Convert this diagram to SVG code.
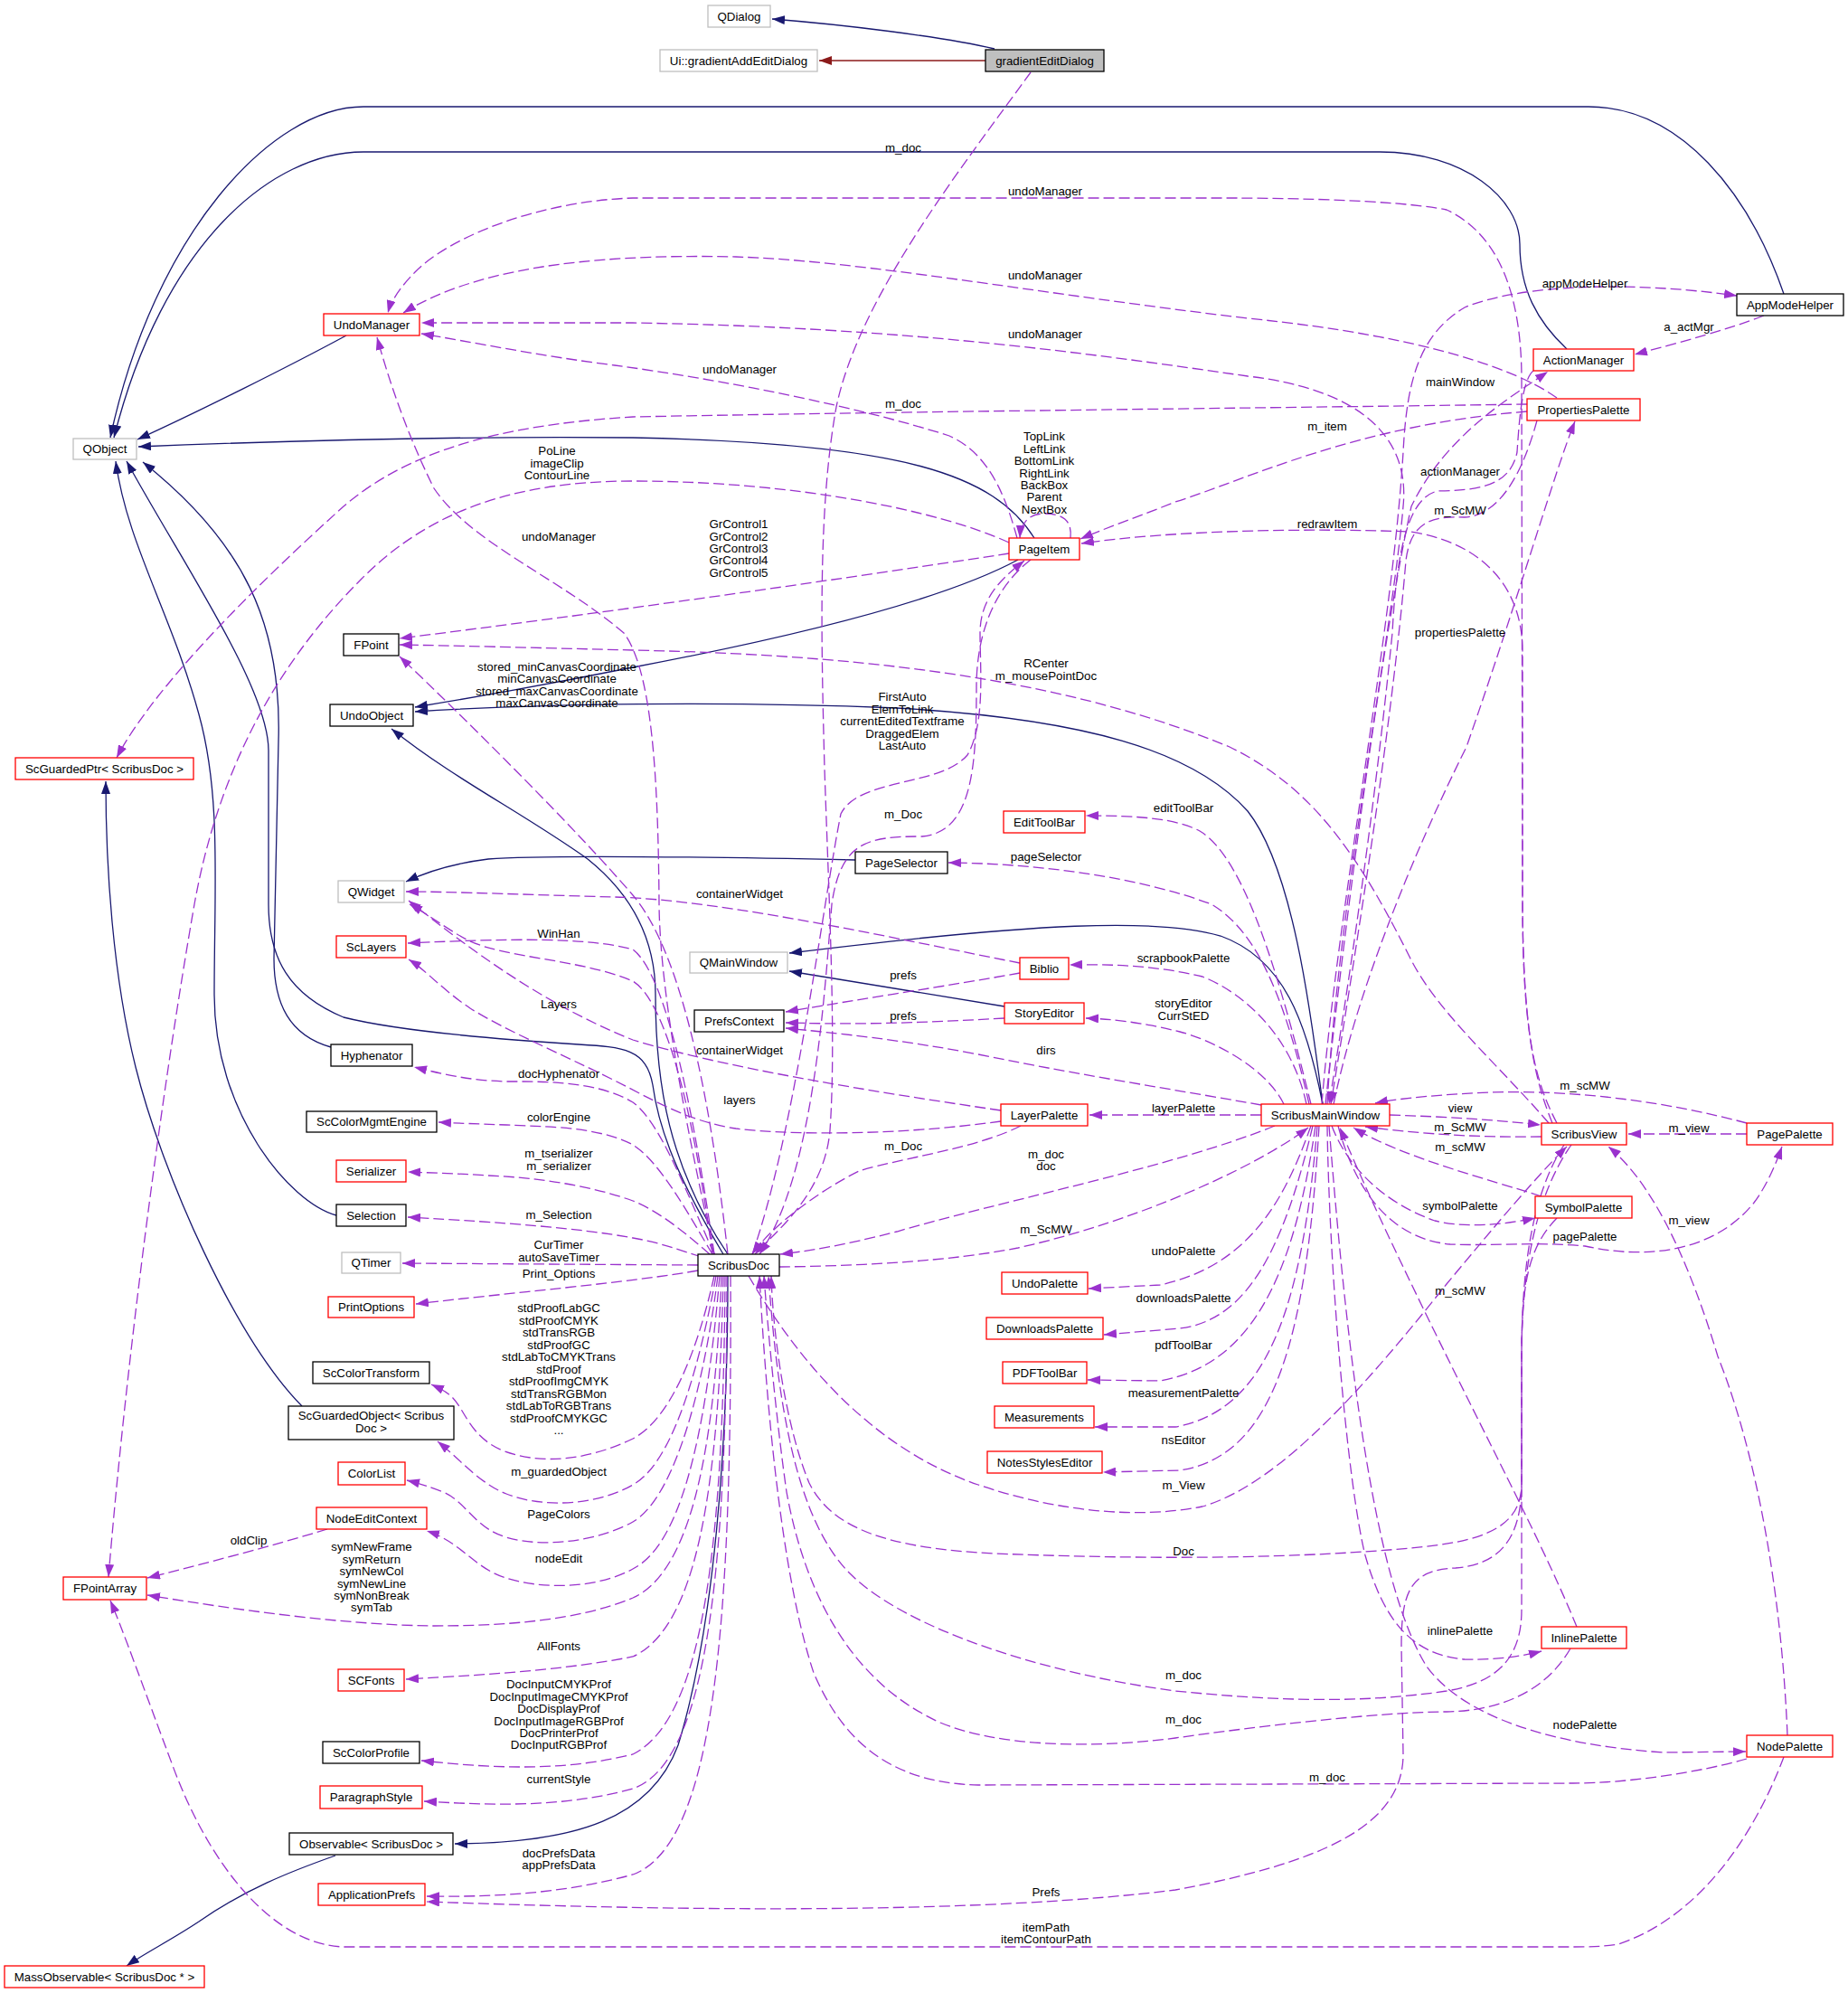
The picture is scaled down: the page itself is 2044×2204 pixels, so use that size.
<svg xmlns="http://www.w3.org/2000/svg" width="2044" height="2204" viewBox="0 0 2044 2204">
<style>
.n rect{fill:#fff;stroke-width:1.3}
.rd rect{stroke:#ff0000}
.bk rect{stroke:#000}
.gy rect{stroke:#bfbfbf}
text{font-family:"Liberation Sans",Arial,Helvetica,sans-serif;font-size:13.3px;fill:#000}
.n text{text-anchor:middle}
.lb text{text-anchor:middle}
.e path{fill:none;stroke-width:1.3}
.e .i{stroke:#191970;marker-end:url(#mb)}
.e .r{stroke:#8b1a1a;marker-end:url(#mr)}
.e .u{stroke:#9a32cd;stroke-dasharray:12,5;marker-end:url(#mp)}
</style>
<defs>
<marker id="mp" viewBox="0 0 10 10" refX="10" refY="5" markerWidth="14" markerHeight="10" markerUnits="userSpaceOnUse" orient="auto" preserveAspectRatio="none"><path d="M0,0 L10,5 L0,10 z" fill="#9a32cd"/></marker>
<marker id="mb" viewBox="0 0 10 10" refX="10" refY="5" markerWidth="14" markerHeight="10" markerUnits="userSpaceOnUse" orient="auto" preserveAspectRatio="none"><path d="M0,0 L10,5 L0,10 z" fill="#191970"/></marker>
<marker id="mr" viewBox="0 0 10 10" refX="10" refY="5" markerWidth="14" markerHeight="10" markerUnits="userSpaceOnUse" orient="auto" preserveAspectRatio="none"><path d="M0,0 L10,5 L0,10 z" fill="#8b1a1a"/></marker>
</defs>
<rect width="2044" height="2204" fill="#fff"/>
<g id="edges" class="e">
<path class="i" d="M1100,54 C1040,40 930,27 854,21"/>
<path class="r" d="M1090,67 L906,67"/>
<path class="i" d="M1973,325 C1935,215 1860,118 1757,118 L402,118 C300,118 170,260 122,484"/>
<path class="i" d="M1733,386 C1700,355 1681,320 1681,270 C1681,220 1620,168 1526,168 L402,168 C300,168 180,270 126,484"/>
<path class="i" d="M383,371 C320,405 220,455 152,486"/>
<path class="i" d="M1144,595 C1100,525 1000,490 700,484 C500,482 300,488 153,494"/>
<path class="i" d="M800,1387 C760,1320 730,1260 722,1200 C715,1160 690,1158 640,1155 C560,1150 440,1140 380,1125 C320,1100 297,1060 297,1000 L297,830 C297,760 200,620 140,510"/>
<path class="i" d="M366,1158 C320,1145 303,1110 303,1060 L308,820 C312,690 270,600 158,511"/>
<path class="i" d="M372,1344 C320,1330 237,1230 237,1100 C237,980 245,880 220,790 C190,680 140,600 128,510"/>
<path class="i" d="M1126,619 C1050,660 900,700 700,738 C600,758 520,772 459,782"/>
<path class="i" d="M1463,1221 C1450,1120 1430,960 1380,897 C1320,830 1200,795 992,783 C800,775 600,778 459,787"/>
<path class="i" d="M805,1387 C740,1290 725,1200 725,1100 C725,1040 700,990 650,950 C580,900 500,860 433,806"/>
<path class="i" d="M946,951 C800,948 600,945 540,950 C500,955 470,965 449,975"/>
<path class="i" d="M1463,1221 C1445,1130 1420,1060 1350,1035 C1280,1015 1150,1020 873,1054"/>
<path class="i" d="M1111,1113 L873,1074"/>
<path class="i" d="M334,1555 C260,1480 180,1300 150,1180 C125,1080 117,960 117,864"/>
<path class="i" d="M805,1411 C805,1600 790,1800 750,1930 C720,2010 640,2038 503,2039"/>
<path class="i" d="M371,2052 C320,2070 270,2090 220,2125 C190,2145 160,2160 140,2174"/>
<path class="u" d="M1140,80 C1060,190 950,330 925,450 C905,560 908,700 912,850 C917,1000 925,1150 918,1250 C912,1320 860,1360 835,1387"/>
<path class="u" d="M1689,447 C1500,450 1000,455 700,461 C550,470 450,500 380,560 C280,650 170,760 129,838"/>
<path class="u" d="M1116,600 C1040,565 880,532 700,532 C560,532 470,570 400,640 C300,740 240,860 215,1000 C180,1200 140,1500 120,1744"/>
<path class="u" d="M1116,612 C900,645 650,680 442,706"/>
<path class="u" d="M1713,1242 C1660,1180 1590,1120 1560,1060 C1500,940 1450,870 1360,826 C1200,760 1000,725 700,719 C580,716 500,714 442,713"/>
<path class="u" d="M805,1387 C790,1250 760,1060 700,990 C640,920 520,800 442,726"/>
<path class="u" d="M1184,595 C1186,575 1175,568 1155,568 C1138,568 1129,578 1128,595"/>
<path class="u" d="M1125,595 C1110,540 1090,500 1050,482 C950,450 800,420 680,404 C600,394 520,378 466,369"/>
<path class="u" d="M790,1387 C760,1250 730,1100 729,1000 C728,850 720,740 690,700 C620,640 520,600 480,540 C450,480 430,420 417,373"/>
<path class="u" d="M1717,1242 C1700,1200 1685,1150 1684,1000 L1683,420 C1683,330 1660,260 1600,232 C1540,220 1400,219 1360,219 L700,219 C600,222 500,260 460,300 C440,320 432,335 429,346"/>
<path class="u" d="M1722,440 C1680,410 1580,372 1380,352 C1150,325 950,288 814,284 C640,280 520,300 446,346"/>
<path class="u" d="M1468,1221 C1480,1000 1540,700 1552,560 C1560,480 1500,430 1380,416 C1200,390 1000,362 700,357 L466,357"/>
<path class="u" d="M788,1387 C770,1250 740,1110 700,1085 C640,1060 560,1060 518,1040 C495,1028 475,1012 453,1000"/>
<path class="u" d="M1107,1228 C950,1205 800,1180 700,1150 C600,1110 520,1050 452,996"/>
<path class="u" d="M1128,1065 C1000,1040 800,995 680,992 C600,990 500,986 449,986"/>
<path class="u" d="M790,1387 C770,1250 740,1080 700,1050 C650,1036 560,1038 451,1043"/>
<path class="u" d="M1107,1240 C1000,1255 880,1256 814,1248 C760,1240 720,1215 680,1195 C620,1165 560,1140 520,1115 C490,1095 470,1072 452,1061"/>
<path class="u" d="M790,1387 C760,1320 730,1240 700,1219 C660,1195 600,1196 560,1196 C520,1195 490,1188 458,1180"/>
<path class="u" d="M788,1387 C760,1340 730,1285 700,1266 C660,1245 600,1246 560,1244 C530,1243 505,1242 485,1241"/>
<path class="u" d="M785,1387 C760,1365 730,1340 700,1328 C650,1310 590,1302 540,1300 C510,1298 480,1297 451,1296"/>
<path class="u" d="M776,1390 C750,1382 730,1374 700,1369 C640,1358 560,1352 451,1346"/>
<path class="u" d="M772,1399 L445,1397"/>
<path class="u" d="M772,1405 C700,1418 560,1430 460,1442"/>
<path class="u" d="M790,1411 C770,1500 740,1570 700,1591 C650,1615 600,1620 558,1605 C520,1590 515,1560 500,1545 C495,1540 488,1536 477,1531"/>
<path class="u" d="M792,1411 C770,1530 740,1620 700,1642 C660,1665 600,1668 560,1652 C530,1640 510,1615 484,1594"/>
<path class="u" d="M794,1411 C775,1560 740,1660 700,1683 C660,1705 600,1712 560,1700 C525,1690 515,1660 490,1650 C475,1644 462,1640 450,1637"/>
<path class="u" d="M796,1411 C780,1600 750,1710 700,1735 C660,1757 600,1758 560,1745 C525,1735 510,1705 472,1693"/>
<path class="u" d="M362,1691 C300,1710 230,1728 163,1745"/>
<path class="u" d="M798,1411 C790,1620 760,1740 700,1767 C640,1792 560,1798 480,1798 C380,1797 260,1780 163,1764"/>
<path class="u" d="M800,1411 C795,1650 770,1800 700,1832 C620,1848 520,1853 449,1857"/>
<path class="u" d="M802,1411 C800,1700 780,1900 700,1940 C620,1960 540,1955 466,1947"/>
<path class="u" d="M804,1411 C804,1750 780,1950 700,1978 C620,2000 540,1996 469,1992"/>
<path class="u" d="M808,1411 C810,1800 790,2040 700,2073 C620,2095 540,2098 472,2097"/>
<path class="u" d="M1738,1266 C1700,1320 1683,1400 1683,1500 L1683,1640 C1683,1700 1660,1730 1610,1734 C1560,1736 1550,1760 1550,1820 L1552,1940 C1552,2020 1460,2060 1300,2090 C1100,2115 800,2115 472,2103"/>
<path class="u" d="M1973,1943 C1940,2030 1880,2120 1790,2150 C1770,2153 1760,2153 1740,2153 L380,2153 C300,2150 230,2060 190,1950 C160,1870 135,1800 122,1770"/>
<path class="u" d="M1932,1945 C1880,1960 1800,1972 1740,1972 L1082,1974 C980,1972 930,1920 900,1850 C870,1760 850,1600 840,1411"/>
<path class="u" d="M1737,1823 C1710,1870 1660,1892 1600,1893 C1540,1893 1420,1905 1300,1922 C1200,1935 1100,1930 1040,1905 C940,1860 890,1760 870,1650 C860,1580 850,1480 845,1411"/>
<path class="u" d="M1722,1347 C1690,1380 1683,1420 1683,1500 L1683,1780 C1683,1830 1660,1860 1600,1870 C1500,1885 1400,1880 1300,1870 C1150,1850 1000,1800 940,1740 C880,1680 860,1550 850,1411"/>
<path class="u" d="M1730,1266 C1695,1320 1683,1400 1683,1500 L1683,1640 C1683,1690 1640,1705 1560,1712 C1450,1722 1300,1726 1100,1718 C980,1712 920,1690 895,1640 C870,1580 855,1480 853,1411"/>
<path class="u" d="M828,1411 C880,1500 960,1600 1082,1642 C1170,1672 1260,1680 1330,1666 C1420,1640 1520,1520 1600,1420 C1650,1360 1700,1300 1733,1268"/>
<path class="u" d="M1744,1799 C1720,1740 1680,1660 1650,1600 C1600,1500 1520,1340 1482,1247"/>
<path class="u" d="M1468,1245 C1470,1400 1490,1640 1510,1720 C1530,1790 1560,1830 1620,1835 C1660,1836 1690,1830 1705,1826"/>
<path class="u" d="M1470,1245 C1490,1500 1520,1750 1578,1843 C1620,1900 1720,1930 1840,1938 L1931,1937"/>
<path class="u" d="M1977,1919 C1970,1750 1940,1600 1900,1500 C1870,1400 1830,1310 1779,1268"/>
<path class="u" d="M1480,1245 C1500,1320 1540,1370 1604,1376 C1650,1378 1700,1373 1753,1378 C1830,1395 1900,1380 1940,1330 C1955,1310 1965,1285 1971,1268"/>
<path class="u" d="M1932,1242 C1850,1220 1750,1205 1650,1208 C1600,1210 1550,1214 1521,1220"/>
<path class="u" d="M1932,1254 L1801,1254"/>
<path class="u" d="M1537,1233 C1600,1235 1650,1238 1704,1244"/>
<path class="u" d="M1705,1257 C1640,1258 1580,1255 1510,1246"/>
<path class="u" d="M1705,1323 C1650,1305 1550,1280 1497,1247"/>
<path class="u" d="M1473,1245 C1490,1290 1530,1330 1587,1350 C1620,1358 1660,1355 1698,1347"/>
<path class="u" d="M1395,1233 L1205,1233"/>
<path class="u" d="M1410,1245 C1300,1290 1100,1330 992,1362 C930,1378 890,1384 863,1387"/>
<path class="u" d="M862,1401 C950,1400 1050,1395 1126,1380 C1260,1350 1390,1290 1447,1247"/>
<path class="u" d="M1395,1222 C1300,1205 1200,1190 1082,1166 C1000,1150 920,1142 869,1137"/>
<path class="u" d="M1420,1221 C1400,1180 1340,1150 1305,1141 C1260,1130 1230,1127 1201,1126"/>
<path class="u" d="M1450,1245 C1420,1330 1380,1400 1283,1421 L1204,1425"/>
<path class="u" d="M1452,1245 C1420,1380 1380,1460 1305,1469 L1221,1476"/>
<path class="u" d="M1455,1245 C1430,1420 1380,1510 1283,1527 L1203,1526"/>
<path class="u" d="M1457,1245 C1440,1450 1400,1560 1300,1578 L1211,1578"/>
<path class="u" d="M1459,1245 C1445,1480 1410,1610 1305,1626 L1220,1628"/>
<path class="u" d="M1450,1221 C1420,1100 1380,950 1327,919 C1300,905 1260,902 1201,902"/>
<path class="u" d="M1448,1221 C1420,1100 1390,1030 1340,1000 C1260,970 1150,955 1049,954"/>
<path class="u" d="M1445,1221 C1430,1150 1380,1100 1330,1080 C1280,1068 1230,1066 1183,1067"/>
<path class="u" d="M1128,1076 C1050,1090 950,1105 869,1119"/>
<path class="u" d="M1111,1126 C1000,1132 950,1133 869,1131"/>
<path class="u" d="M1129,1245 C1080,1270 1000,1280 950,1295 C900,1320 850,1360 832,1387"/>
<path class="u" d="M832,1387 C880,1250 910,1000 930,900 C950,860 1040,870 1070,835 C1090,800 1084,740 1084,700 C1084,660 1110,638 1133,620"/>
<path class="u" d="M1140,619 C1100,650 1080,700 1080,760 C1080,850 1075,920 1020,925 C960,925 930,930 920,1000 C912,1100 900,1300 840,1387"/>
<path class="u" d="M1462,1221 C1480,1000 1540,700 1552,500 C1556,420 1570,370 1620,340 C1680,315 1800,310 1921,327"/>
<path class="u" d="M1951,349 C1910,365 1860,378 1808,392"/>
<path class="u" d="M1466,1221 C1490,1000 1530,700 1561,560 C1600,480 1670,440 1712,411"/>
<path class="u" d="M1696,410 C1683,420 1680,470 1678,500 C1670,540 1630,542 1590,543 C1560,550 1545,600 1540,700 C1520,900 1490,1100 1470,1221"/>
<path class="u" d="M1689,455 C1500,470 1380,530 1300,555 C1250,575 1220,585 1195,596"/>
<path class="u" d="M1475,1221 C1500,1100 1560,950 1622,826 C1680,660 1720,520 1742,466"/>
<path class="u" d="M1700,465 C1685,520 1660,570 1620,572 C1580,570 1560,580 1555,620 C1540,800 1500,1050 1472,1221"/>
<path class="u" d="M1722,1242 C1700,1200 1684,1150 1684,1000 L1684,720 C1684,650 1640,600 1560,588 C1450,584 1300,586 1196,601"/>
</g>
<g id="labels" class="lb">
<text x="999" y="168">m_doc</text>
<text x="1156" y="216">undoManager</text>
<text x="1156" y="309">undoManager</text>
<text x="1156" y="374">undoManager</text>
<text x="818" y="413">undoManager</text>
<text x="999" y="451">m_doc</text>
<text x="1155" y="487">TopLink</text>
<text x="1155" y="501">LeftLink</text>
<text x="1155" y="514">BottomLink</text>
<text x="1155" y="528">RightLink</text>
<text x="1155" y="541">BackBox</text>
<text x="1155" y="554">Parent</text>
<text x="1155" y="568">NextBox</text>
<text x="616" y="503">PoLine</text>
<text x="616" y="517">imageClip</text>
<text x="616" y="530">ContourLine</text>
<text x="618" y="598">undoManager</text>
<text x="817" y="584">GrControl1</text>
<text x="817" y="598">GrControl2</text>
<text x="817" y="611">GrControl3</text>
<text x="817" y="624">GrControl4</text>
<text x="817" y="638">GrControl5</text>
<text x="616" y="742">stored_minCanvasCoordinate</text>
<text x="616" y="755">minCanvasCoordinate</text>
<text x="616" y="769">stored_maxCanvasCoordinate</text>
<text x="616" y="782">maxCanvasCoordinate</text>
<text x="1157" y="738">RCenter</text>
<text x="1157" y="752">m_mousePointDoc</text>
<text x="998" y="775">FirstAuto</text>
<text x="998" y="789">ElemToLink</text>
<text x="998" y="802">currentEditedTextframe</text>
<text x="998" y="816">DraggedElem</text>
<text x="998" y="829">LastAuto</text>
<text x="999" y="905">m_Doc</text>
<text x="1309" y="898">editToolBar</text>
<text x="1157" y="952">pageSelector</text>
<text x="818" y="993">containerWidget</text>
<text x="1309" y="1064">scrapbookPalette</text>
<text x="999" y="1083">prefs</text>
<text x="618" y="1037">WinHan</text>
<text x="618" y="1115">Layers</text>
<text x="618" y="1192">docHyphenator</text>
<text x="618" y="1240">colorEngine</text>
<text x="618" y="1280">m_tserializer</text>
<text x="618" y="1294">m_serializer</text>
<text x="618" y="1348">m_Selection</text>
<text x="618" y="1381">CurTimer</text>
<text x="618" y="1395">autoSaveTimer</text>
<text x="618" y="1413">Print_Options</text>
<text x="618" y="1451">stdProofLabGC</text>
<text x="618" y="1465">stdProofCMYK</text>
<text x="618" y="1478">stdTransRGB</text>
<text x="618" y="1492">stdProofGC</text>
<text x="618" y="1505">stdLabToCMYKTrans</text>
<text x="618" y="1519">stdProof</text>
<text x="618" y="1532">stdProofImgCMYK</text>
<text x="618" y="1546">stdTransRGBMon</text>
<text x="618" y="1559">stdLabToRGBTrans</text>
<text x="618" y="1573">stdProofCMYKGC</text>
<text x="618" y="1586">...</text>
<text x="618" y="1632">m_guardedObject</text>
<text x="1309" y="1114">storyEditor</text>
<text x="1309" y="1128">CurrStED</text>
<text x="999" y="1128">prefs</text>
<text x="818" y="1166">containerWidget</text>
<text x="1157" y="1166">dirs</text>
<text x="818" y="1221">layers</text>
<text x="1309" y="1230">layerPalette</text>
<text x="999" y="1272">m_Doc</text>
<text x="1157" y="1281">m_doc</text>
<text x="1157" y="1294">doc</text>
<text x="1157" y="1364">m_ScMW</text>
<text x="1309" y="1388">undoPalette</text>
<text x="1309" y="1440">downloadsPalette</text>
<text x="1309" y="1492">pdfToolBar</text>
<text x="1309" y="1545">measurementPalette</text>
<text x="1309" y="1597">nsEditor</text>
<text x="1753" y="1205">m_scMW</text>
<text x="1615" y="1230">view</text>
<text x="1615" y="1251">m_ScMW</text>
<text x="1615" y="1273">m_scMW</text>
<text x="1868" y="1252">m_view</text>
<text x="1615" y="1338">symbolPalette</text>
<text x="1753" y="1372">pagePalette</text>
<text x="1868" y="1354">m_view</text>
<text x="1615" y="1432">m_scMW</text>
<text x="1753" y="318">appModeHelper</text>
<text x="1868" y="366">a_actMgr</text>
<text x="1615" y="427">mainWindow</text>
<text x="1468" y="476">m_item</text>
<text x="1615" y="526">actionManager</text>
<text x="1615" y="569">m_ScMW</text>
<text x="1468" y="584">redrawItem</text>
<text x="1615" y="704">propertiesPalette</text>
<text x="275" y="1708">oldClip</text>
<text x="411" y="1715">symNewFrame</text>
<text x="411" y="1729">symReturn</text>
<text x="411" y="1742">symNewCol</text>
<text x="411" y="1756">symNewLine</text>
<text x="411" y="1769">symNonBreak</text>
<text x="411" y="1782">symTab</text>
<text x="618" y="1679">PageColors</text>
<text x="618" y="1728">nodeEdit</text>
<text x="618" y="1825">AllFonts</text>
<text x="618" y="1867">DocInputCMYKProf</text>
<text x="618" y="1881">DocInputImageCMYKProf</text>
<text x="618" y="1894">DocDisplayProf</text>
<text x="618" y="1908">DocInputImageRGBProf</text>
<text x="618" y="1921">DocPrinterProf</text>
<text x="618" y="1934">DocInputRGBProf</text>
<text x="618" y="1972">currentStyle</text>
<text x="618" y="2054">docPrefsData</text>
<text x="618" y="2067">appPrefsData</text>
<text x="1309" y="1647">m_View</text>
<text x="1309" y="1720">Doc</text>
<text x="1309" y="1857">m_doc</text>
<text x="1309" y="1906">m_doc</text>
<text x="1157" y="2097">Prefs</text>
<text x="1157" y="2136">itemPath</text>
<text x="1157" y="2149">itemContourPath</text>
<text x="1615" y="1808">inlinePalette</text>
<text x="1753" y="1912">nodePalette</text>
<text x="1468" y="1970">m_doc</text>
</g>
<g id="QDialog" class="n gy"><rect x="783" y="6" width="69" height="24"/><text x="817.5" y="22.5">QDialog</text></g>
<g id="UiGradientAddEditDialog" class="n gy"><rect x="730" y="55" width="174" height="24"/><text x="817" y="71.5">Ui::gradientAddEditDialog</text></g>
<g id="gradientEditDialog" class="n bk"><rect x="1090" y="55" width="131" height="24" style="fill:#bfbfbf"/><text x="1155.5" y="71.5">gradientEditDialog</text></g>
<g id="QObject" class="n gy"><rect x="81" y="485" width="70" height="23"/><text x="116" y="501">QObject</text></g>
<g id="UndoManager" class="n rd"><rect x="358" y="347" width="106" height="24"/><text x="411" y="363.5">UndoManager</text></g>
<g id="AppModeHelper" class="n bk"><rect x="1921" y="325" width="118" height="24"/><text x="1980" y="341.5">AppModeHelper</text></g>
<g id="ActionManager" class="n rd"><rect x="1696" y="386" width="111" height="24"/><text x="1751.5" y="402.5">ActionManager</text></g>
<g id="PropertiesPalette" class="n rd"><rect x="1689" y="441" width="125" height="24"/><text x="1751.5" y="457.5">PropertiesPalette</text></g>
<g id="PageItem" class="n rd"><rect x="1116" y="595" width="78" height="24"/><text x="1155" y="611.5">PageItem</text></g>
<g id="FPoint" class="n bk"><rect x="380" y="701" width="61" height="24"/><text x="410.5" y="717.5">FPoint</text></g>
<g id="UndoObject" class="n bk"><rect x="365" y="779" width="92" height="24"/><text x="411" y="795.5">UndoObject</text></g>
<g id="ScGuardedPtr" class="n rd"><rect x="17" y="838" width="197" height="24"/><text x="115.5" y="854.5">ScGuardedPtr&lt; ScribusDoc &gt;</text></g>
<g id="QWidget" class="n gy"><rect x="374" y="974" width="73" height="24"/><text x="410.5" y="990.5">QWidget</text></g>
<g id="ScLayers" class="n rd"><rect x="372" y="1035" width="77" height="24"/><text x="410.5" y="1051.5">ScLayers</text></g>
<g id="EditToolBar" class="n rd"><rect x="1110" y="897" width="90" height="24"/><text x="1155" y="913.5">EditToolBar</text></g>
<g id="PageSelector" class="n bk"><rect x="946" y="942" width="102" height="24"/><text x="997" y="958.5">PageSelector</text></g>
<g id="QMainWindow" class="n gy"><rect x="763" y="1053" width="108" height="23"/><text x="817" y="1069">QMainWindow</text></g>
<g id="Biblio" class="n rd"><rect x="1128" y="1059" width="54" height="24"/><text x="1155" y="1075.5">Biblio</text></g>
<g id="PrefsContext" class="n bk"><rect x="768" y="1117" width="99" height="24"/><text x="817.5" y="1133.5">PrefsContext</text></g>
<g id="StoryEditor" class="n rd"><rect x="1111" y="1109" width="88" height="23"/><text x="1155" y="1125">StoryEditor</text></g>
<g id="Hyphenator" class="n bk"><rect x="366" y="1155" width="90" height="24"/><text x="411" y="1171.5">Hyphenator</text></g>
<g id="LayerPalette" class="n rd"><rect x="1107" y="1221" width="96" height="24"/><text x="1155" y="1237.5">LayerPalette</text></g>
<g id="ScribusMainWindow" class="n rd"><rect x="1395" y="1221" width="142" height="24"/><text x="1466" y="1237.5">ScribusMainWindow</text></g>
<g id="ScribusView" class="n rd"><rect x="1705" y="1242" width="94" height="24"/><text x="1752" y="1258.5">ScribusView</text></g>
<g id="PagePalette" class="n rd"><rect x="1932" y="1242" width="95" height="24"/><text x="1979.5" y="1258.5">PagePalette</text></g>
<g id="ScColorMgmtEngine" class="n bk"><rect x="339" y="1229" width="144" height="23"/><text x="411" y="1245">ScColorMgmtEngine</text></g>
<g id="Serializer" class="n rd"><rect x="372" y="1283" width="77" height="24"/><text x="410.5" y="1299.5">Serializer</text></g>
<g id="Selection" class="n bk"><rect x="372" y="1332" width="77" height="24"/><text x="410.5" y="1348.5">Selection</text></g>
<g id="QTimer" class="n gy"><rect x="378" y="1385" width="65" height="23"/><text x="410.5" y="1401">QTimer</text></g>
<g id="PrintOptions" class="n rd"><rect x="363" y="1434" width="95" height="23"/><text x="410.5" y="1450">PrintOptions</text></g>
<g id="ScribusDoc" class="n bk"><rect x="772" y="1387" width="90" height="24"/><text x="817" y="1403.5">ScribusDoc</text></g>
<g id="SymbolPalette" class="n rd"><rect x="1698" y="1323" width="107" height="24"/><text x="1751.5" y="1339.5">SymbolPalette</text></g>
<g id="UndoPalette" class="n rd"><rect x="1108" y="1407" width="95" height="24"/><text x="1155.5" y="1423.5">UndoPalette</text></g>
<g id="DownloadsPalette" class="n rd"><rect x="1091" y="1457" width="129" height="24"/><text x="1155.5" y="1473.5">DownloadsPalette</text></g>
<g id="PDFToolBar" class="n rd"><rect x="1109" y="1506" width="93" height="24"/><text x="1155.5" y="1522.5">PDFToolBar</text></g>
<g id="Measurements" class="n rd"><rect x="1100" y="1555" width="110" height="24"/><text x="1155" y="1571.5">Measurements</text></g>
<g id="NotesStylesEditor" class="n rd"><rect x="1092" y="1605" width="127" height="24"/><text x="1155.5" y="1621.5">NotesStylesEditor</text></g>
<g id="ScColorTransform" class="n bk"><rect x="346" y="1506" width="129" height="24"/><text x="410.5" y="1522.5">ScColorTransform</text></g>
<g id="ScGuardedObject" class="n bk"><rect x="319" y="1555" width="183" height="37"/><text x="410.5" y="1570">ScGuardedObject&lt; Scribus</text><text x="410.5" y="1584">Doc &gt;</text></g>
<g id="ColorList" class="n rd"><rect x="374" y="1617" width="74" height="25"/><text x="411" y="1634">ColorList</text></g>
<g id="NodeEditContext" class="n rd"><rect x="350" y="1667" width="122" height="24"/><text x="411" y="1683.5">NodeEditContext</text></g>
<g id="FPointArray" class="n rd"><rect x="70" y="1744" width="92" height="25"/><text x="116" y="1761">FPointArray</text></g>
<g id="SCFonts" class="n rd"><rect x="374" y="1846" width="73" height="24"/><text x="410.5" y="1862.5">SCFonts</text></g>
<g id="ScColorProfile" class="n bk"><rect x="357" y="1926" width="107" height="24"/><text x="410.5" y="1942.5">ScColorProfile</text></g>
<g id="ParagraphStyle" class="n rd"><rect x="354" y="1975" width="113" height="25"/><text x="410.5" y="1992">ParagraphStyle</text></g>
<g id="Observable" class="n bk"><rect x="320" y="2027" width="181" height="24"/><text x="410.5" y="2043.5">Observable&lt; ScribusDoc &gt;</text></g>
<g id="ApplicationPrefs" class="n rd"><rect x="352" y="2083" width="118" height="24"/><text x="411" y="2099.5">ApplicationPrefs</text></g>
<g id="MassObservable" class="n rd"><rect x="5" y="2174" width="221" height="24"/><text x="115.5" y="2190.5">MassObservable&lt; ScribusDoc * &gt;</text></g>
<g id="InlinePalette" class="n rd"><rect x="1705" y="1799" width="94" height="24"/><text x="1752" y="1815.5">InlinePalette</text></g>
<g id="NodePalette" class="n rd"><rect x="1932" y="1919" width="95" height="24"/><text x="1979.5" y="1935.5">NodePalette</text></g>
</svg>
